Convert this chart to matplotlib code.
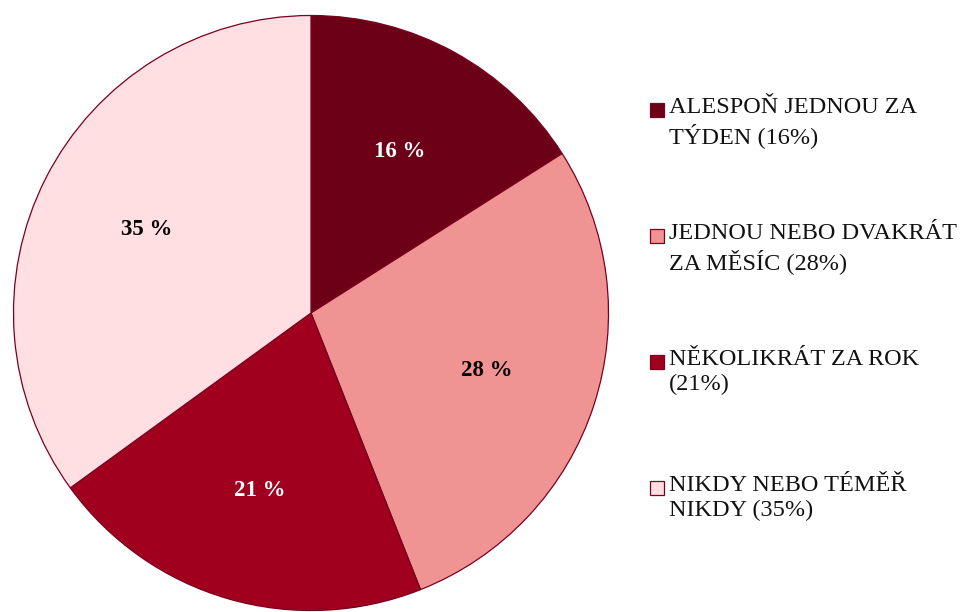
import matplotlib.pyplot as plt
from matplotlib.patches import Rectangle

# data
labels = ["ALESPOŇ JEDNOU ZA\nTÝDEN (16%)",
          "JEDNOU NEBO DVAKRÁT\nZA MĚSÍC (28%)",
          "NĚKOLIKRÁT ZA ROK\n(21%)",
          "NIKDY NEBO TÉMĚŘ\nNIKDY (35%)"]
values = [16, 28, 21, 35]
colors = ["#6B0016", "#F09393", "#A0001E", "#FFDFE1"]
edge = "#7A0020"

plt.rcParams["font.family"] = ["Liberation Serif", "DejaVu Serif"]

W, H = 962, 612
fig = plt.figure(figsize=(W / 100, H / 100), dpi=100)

# pie axes: centre (311, 313) px, radius 299 px
cx, cy, r = 311, 313, 299
ax = fig.add_axes([(cx - r) / W, (H - cy - r) / H, 2 * r / W, 2 * r / H])
wedges, texts, autotexts = ax.pie(
    values, colors=colors, startangle=90, counterclock=False,
    autopct=lambda p: f"{p:.0f} %", pctdistance=0.62,
    wedgeprops=dict(edgecolor=edge, linewidth=0.9),
    textprops=dict(fontsize=16.5, fontweight="bold"))
for t, c in zip(autotexts, colors):
    t.set_color("white" if c in ("#6B0016", "#A0001E") else "black")
ax.set_xlim(-1.005, 1.005)
ax.set_ylim(-1.005, 1.005)
ax.axis("off")

# legend, drawn by hand so the square sits on the first line
y0, step = 110, 126
for i, (lab, c) in enumerate(zip(labels, colors)):
    yc = y0 + i * step
    fig.patches.append(Rectangle((650 / W, 1 - (yc + 7) / H), 14 / W, 14 / H,
                                 transform=fig.transFigure, facecolor=c,
                                 edgecolor=edge, linewidth=0.9))
    fig.text(669 / W, 1 - (yc - 13) / H, lab, fontsize=17.5, va="top",
             ha="left", color="#111111", linespacing=1.24)

fig.savefig("out.png", dpi=100, facecolor="white")
